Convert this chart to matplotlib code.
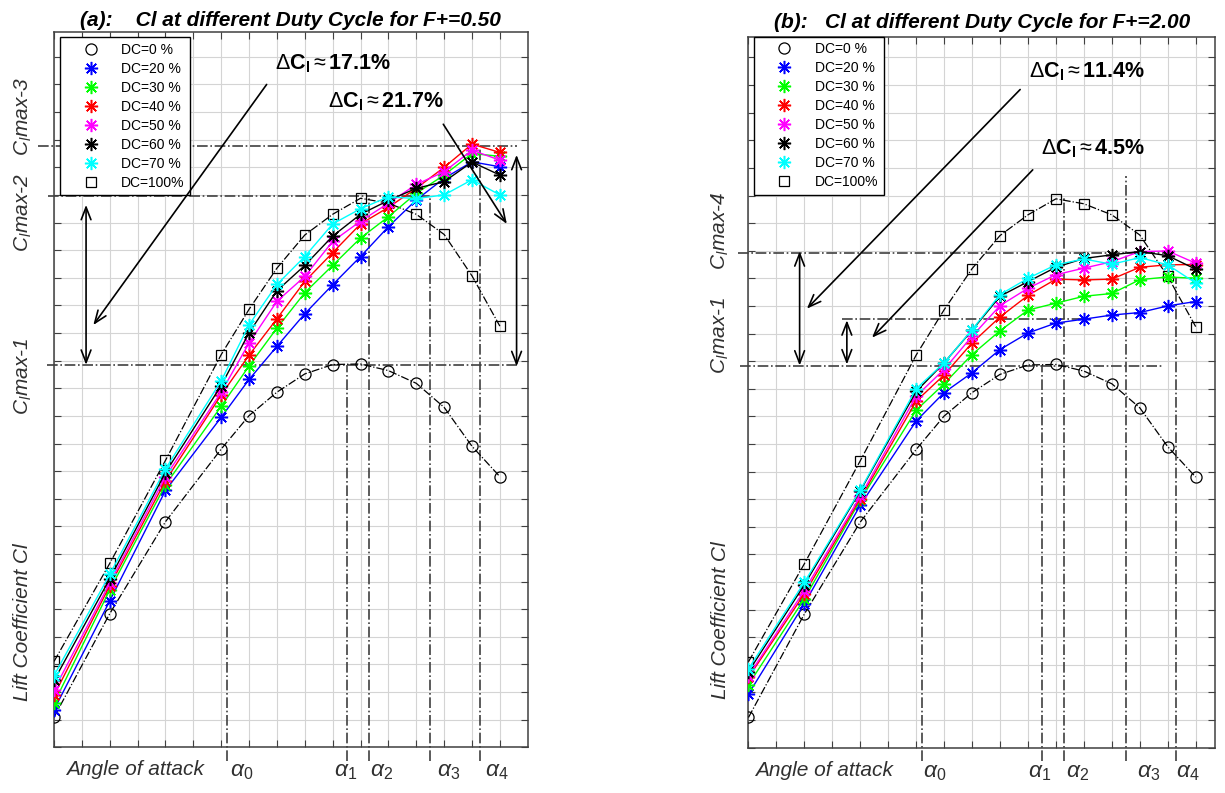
import matplotlib
matplotlib.use('Agg')
import matplotlib.pyplot as plt
from matplotlib.lines import Line2D

plt.rcParams['font.family'] = ['Liberation Sans', 'DejaVu Sans']
plt.rcParams['mathtext.fontset'] = 'custom'
plt.rcParams['mathtext.rm'] = 'Liberation Sans'
plt.rcParams['mathtext.it'] = 'Liberation Sans:italic'
plt.rcParams['mathtext.bf'] = 'Liberation Sans:bold'

# angle of attack positions (grid units, labels hidden in the original)
aoa = [0, 2, 4, 6, 7, 8, 9, 10, 11, 12, 13, 14, 15, 16]

# baseline and continuous blowing (same in both panels)
cl_dc0 = [1.09, 4.84, 8.17, 10.8, 12.01, 12.86, 13.52, 13.86, 13.88, 13.64, 13.18, 12.31, 10.9, 9.8]
cl_dc100 = [3.11, 6.66, 10.39, 14.22, 15.86, 17.35, 18.55, 19.3, 19.88, 19.7, 19.3, 18.57, 17.07, 15.25]

# (a) F+ = 0.50
dc20_a = [1.36, 5.3, 9.3, 11.95, 13.32, 14.52, 15.7, 16.75, 17.77, 18.85, 19.82, 20.6, 21.2, 21.02]
dc30_a = [1.6, 5.7, 9.5, 12.35, 13.81, 15.18, 16.46, 17.45, 18.44, 19.21, 20.06, 20.72, 21.5, 21.4]
dc40_a = [1.88, 5.85, 9.65, 12.76, 14.2, 15.52, 16.87, 17.91, 18.95, 19.55, 20.24, 21.0, 21.84, 21.54]
dc50_a = [2.08, 5.95, 9.8, 12.86, 14.64, 16.15, 17.05, 18.32, 19.05, 19.7, 20.38, 20.84, 21.62, 21.26]
dc60_a = [2.42, 6.1, 9.95, 13.1, 15.01, 16.53, 17.45, 18.51, 19.3, 19.8, 20.24, 20.48, 21.19, 20.72]
dc70_a = [2.6, 6.26, 10.08, 13.27, 15.3, 16.76, 17.77, 18.95, 19.5, 19.93, 19.87, 20.0, 20.55, 20.0]

# (b) F+ = 2.00
dc20_b = [1.94, 5.21, 8.78, 11.83, 12.86, 13.58, 14.42, 15.02, 15.38, 15.52, 15.67, 15.76, 16.0, 16.16]
dc30_b = [2.28, 5.39, 8.96, 12.22, 13.18, 14.24, 15.1, 15.85, 16.1, 16.35, 16.45, 16.95, 17.05, 17.0]
dc40_b = [2.54, 5.57, 9.02, 12.55, 13.5, 14.66, 15.6, 16.38, 16.97, 16.94, 16.97, 17.4, 17.49, 17.5]
dc50_b = [2.6, 5.69, 9.1, 12.73, 13.7, 14.9, 16.01, 16.64, 17.13, 17.37, 17.6, 17.97, 17.99, 17.55]
dc60_b = [2.75, 5.9, 9.3, 12.9, 13.94, 15.12, 16.35, 16.88, 17.4, 17.72, 17.85, 17.97, 17.82, 17.33]
dc70_b = [2.85, 5.99, 9.33, 13.0, 13.94, 15.14, 16.41, 17.0, 17.49, 17.7, 17.51, 17.75, 17.49, 16.83]

dc_labels = ['DC=0 %', 'DC=20 %', 'DC=30 %', 'DC=40 %', 'DC=50 %', 'DC=60 %', 'DC=70 %', 'DC=100%']
dc_colors = ['blue', 'lime', 'red', 'magenta', 'black', 'cyan']

# alpha markers: position and top of the vertical line
alpha_x = [6.2, 10.5, 11.3, 13.5, 15.3]
alpha_top_a = [10.8, 13.85, 19.96, 19.96, 21.78]
alpha_top_b = [10.8, 13.86, 19.96, 20.7, 17.0]
alpha_names = ['0', '1', '2', '3', '4']
alpha_dx_a = [0.1, -0.45, 0.05, 0.25, 0.15]
alpha_dx_b = [0.05, -0.5, 0.05, 0.4, 0.0]

# horizontal Cl max lines: level, x start, x end
cl_lines_a = [(21.78, -0.57, 16.6), (19.96, -0.2, 13.5), (13.85, -0.26, 16.7)]
cl_lines_b = [(17.92, -0.38, 14.9), (13.84, -0.3, 14.8), (15.54, 3.35, 12.0)]

GRAY = '#404040'


def draw_panel(ax, series, lines, alpha_top, alpha_dx, xmax, ymax, leg_anchor):
    ax.set_xlim(0, xmax)
    ax.set_ylim(0, ymax)
    ax.set_xticks(range(0, 17))
    ax.set_yticks(range(0, 26))
    ax.grid(True, color='#d4d4d4', lw=0.8)
    ax.set_axisbelow(True)
    ax.tick_params(direction='in', length=5, top=True, right=True,
                   labelbottom=False, labelleft=False, color=GRAY)
    for s in ax.spines.values():
        s.set_color(GRAY)
        s.set_linewidth(1.1)

    for y, x0, x1 in lines:
        ax.plot([x0, x1], [y, y], '-.', color=GRAY, lw=1.2, clip_on=False, zorder=2)
    for xa, top in zip(alpha_x, alpha_top):
        ax.plot([xa, xa], [-0.5, top], '-.', color=GRAY, lw=1.2, clip_on=False, zorder=2)
    for xa, dx, name in zip(alpha_x, alpha_dx, alpha_names):
        ax.text(xa + dx, -0.85, r'$\mathit{\alpha}_{\mathit{' + name + '}}$', fontsize=16.5,
                color='#303030', ha='left', va='center', clip_on=False)

    ax.plot(aoa, cl_dc0, '-.', color='black', lw=0.9, marker='o', ms=8,
            mfc='none', mec='black', mew=0.9, zorder=3)
    ax.plot(aoa, cl_dc100, '-.', color='black', lw=0.9, marker='s', ms=6.5,
            mfc='none', mec='black', mew=0.9, zorder=3)
    for vals, c in zip(series, dc_colors):
        ax.plot(aoa, vals, '-', color=c, lw=1.0, marker=(8, 2, 0), ms=9.5,
                mew=1.1, zorder=4)

    handles = [Line2D([], [], ls='none', marker='o', ms=8, mfc='none', mec='black', mew=0.9)]
    for c in dc_colors:
        handles.append(Line2D([], [], ls='none', marker=(8, 2, 0), ms=9.5, color=c, mew=1.1))
    handles.append(Line2D([], [], ls='none', marker='s', ms=6.5, mfc='none', mec='black', mew=0.9))
    leg = ax.legend(handles, dc_labels, loc='upper left', bbox_to_anchor=leg_anchor,
                    borderaxespad=0, fontsize=10, handlelength=3.6, handletextpad=0.4,
                    labelspacing=0.36, borderpad=0.4, fancybox=False, framealpha=1,
                    edgecolor='black')
    leg.get_frame().set_linewidth(1.0)
    leg.set_zorder(10)


fig = plt.figure(figsize=(12.25, 7.93), dpi=100)
ax1 = fig.add_axes([0.0441, 0.0576, 0.3867, 0.9024])
ax2 = fig.add_axes([0.611, 0.0573, 0.3808, 0.8963])

draw_panel(ax1, [dc20_a, dc30_a, dc40_a, dc50_a, dc60_a, dc70_a], cl_lines_a,
           alpha_top_a, alpha_dx_a, 17, 25.91, (0.0127, 0.9926))
draw_panel(ax2, [dc20_b, dc30_b, dc40_b, dc50_b, dc60_b, dc70_b], cl_lines_b,
           alpha_top_b, alpha_dx_b, 16.69, 25.75, (0.011, 1.0))

ax1.set_title('(a):    Cl at different Duty Cycle for F+=0.50', fontsize=15,
              fontweight='bold', style='italic', pad=4)
ax2.set_title('(b):   Cl at different Duty Cycle for F+=2.00', fontsize=15,
              fontweight='bold', style='italic', pad=6)

arrow = dict(arrowstyle='->,head_length=0.9,head_width=0.35', color='black', lw=1.2,
             shrinkA=0, shrinkB=0)
double = dict(arrowstyle='<->,head_length=0.9,head_width=0.35', color='black', lw=1.2,
              shrinkA=0, shrinkB=0)

# panel a annotations
ax1.text(7.93, 24.77, r'$\Delta$C$_\mathbf{l}$$\approx$17.1%', fontsize=15.5,
         fontweight='bold', va='center', ha='left', zorder=11)
ax1.text(9.83, 23.36, r'$\Delta$C$_\mathbf{l}$$\approx$21.7%', fontsize=15.5,
         fontweight='bold', va='center', ha='left', zorder=11)
ax1.annotate('', xy=(1.41, 15.29), xytext=(7.63, 24.0), arrowprops=arrow, zorder=11)
ax1.annotate('', xy=(16.25, 18.95), xytext=(13.97, 22.56), arrowprops=arrow, zorder=11)
ax1.annotate('', xy=(1.15, 13.85), xytext=(1.15, 19.64), arrowprops=double, zorder=11)
ax1.annotate('', xy=(16.6, 13.8), xytext=(16.6, 21.45), arrowprops=double, zorder=11)

# panel b annotations
ax2.text(10.03, 24.48, r'$\Delta$C$_\mathbf{l}$$\approx$11.4%', fontsize=15.5,
         fontweight='bold', va='center', ha='left', zorder=11)
ax2.text(10.46, 21.69, r'$\Delta$C$_\mathbf{l}$$\approx$4.5%', fontsize=15.5,
         fontweight='bold', va='center', ha='left', zorder=11)
ax2.annotate('', xy=(2.09, 15.9), xytext=(9.72, 23.84), arrowprops=arrow, zorder=11)
ax2.annotate('', xy=(4.42, 14.85), xytext=(10.17, 20.93), arrowprops=arrow, zorder=11)
ax2.annotate('', xy=(1.83, 13.84), xytext=(1.83, 17.98), arrowprops=double, zorder=11)
ax2.annotate('', xy=(3.52, 13.88), xytext=(3.52, 15.48), arrowprops=double, zorder=11)

# axis captions
txt = dict(fontsize=15, style='italic', color='#303030', rotation=90, ha='center', va='center')
W, H = 1225.0, 793.0
fig.text(23 / W, 1 - 117 / H, r'C$_\mathit{l}$max-3', **txt)
fig.text(23 / W, 1 - 213 / H, r'C$_\mathit{l}$max-2', **txt)
fig.text(23 / W, 1 - 376 / H, r'C$_\mathit{l}$max-1', **txt)
fig.text(23 / W, 1 - 622 / H, 'Lift Coefficient Cl', **txt)
fig.text(720 / W, 1 - 231 / H, r'C$_\mathit{l}$max-4', **txt)
fig.text(720 / W, 1 - 335 / H, r'C$_\mathit{l}$max-1', **txt)
fig.text(720 / W, 1 - 620 / H, 'Lift Coefficient Cl', **txt)

ax1.text(0.42, -0.82, 'Angle of attack', fontsize=15, style='italic', color='#303030',
         ha='left', va='center', clip_on=False)
ax2.text(0.24, -0.82, 'Angle of attack', fontsize=15, style='italic', color='#303030',
         ha='left', va='center', clip_on=False)

fig.savefig('out.png', dpi=100)
